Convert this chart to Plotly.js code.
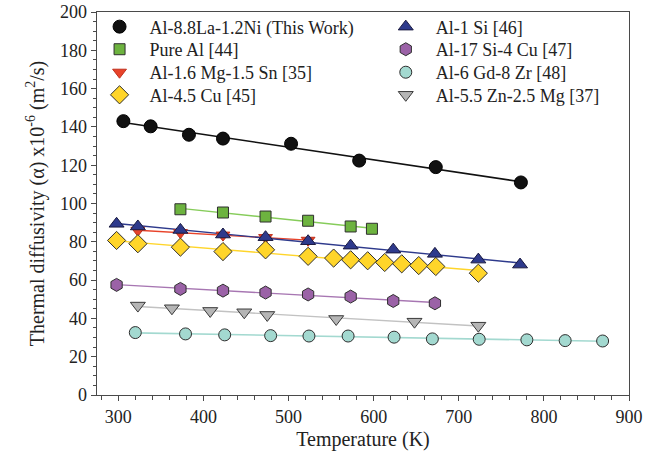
<!DOCTYPE html>
<html>
<head>
<meta charset="utf-8">
<script src="https://cdn.plot.ly/plotly-3.0.1.min.js"></script>
<style>html,body{margin:0;padding:0;background:#fff;}#chart{width:656px;height:459px;}</style>
</head>
<body>
<div id="chart"></div>
<script>
// Temperature (K) and thermal diffusivity (x10^-6 m^2/s) for each alloy
const names = [
  "Al-8.8La-1.2Ni (This Work)", "Pure Al [44]", "Al-1.6 Mg-1.5 Sn [35]", "Al-4.5 Cu [45]",
  "Al-1 Si [46]", "Al-17 Si-4 Cu [47]", "Al-6 Gd-8 Zr [48]", "Al-5.5 Zn-2.5 Mg [37]"
];
const T_LaNi = [306, 338, 383, 423, 503, 583, 673, 773];
const D_LaNi = [143, 140.3, 135.9, 133.9, 131.2, 122.4, 119, 111];
const T_PureAl = [373, 423, 473, 523, 573, 598];
const D_PureAl = [97, 95.3, 93.2, 91, 88, 86.8];
const T_MgSn = [323, 373, 423, 473, 523];
const D_MgSn = [86, 84.8, 83.5, 82.2, 80.8];
const T_Cu = [298, 323, 373, 423, 473, 523, 553, 573, 593, 613, 633, 653, 673, 723];
const D_Cu = [80.7, 79, 77.2, 74.9, 75.8, 72.4, 71.5, 70.6, 70.1, 69.2, 68.5, 67.6, 67.1, 63.6];
const T_Si = [298, 323, 373, 423, 473, 523, 573, 623, 672, 723, 772];
const D_Si = [89.4, 88, 86.2, 83.8, 82.4, 80.3, 78, 75.9, 73.7, 70.7, 68.1];
const T_SiCu = [298, 373, 423, 473, 523, 573, 623, 672];
const D_SiCu = [57.5, 55.4, 54.5, 53.5, 52.5, 51.4, 49.1, 47.9];
const T_GdZr = [320, 379, 425, 479, 524, 570, 624, 669, 724, 780, 825, 869];
const D_GdZr = [32.6, 31.9, 31.4, 31, 30.8, 30.8, 30.2, 29.3, 29.1, 28.8, 28.4, 28.2];
const T_ZnMg = [323, 363, 408, 448, 475, 556, 648, 723];
const D_ZnMg = [46.7, 45.3, 43.9, 43.2, 41.8, 39.7, 38.3, 36.2];

const xTickVals = [300, 400, 500, 600, 700, 800, 900];
const yTickVals = [0, 20, 40, 60, 80, 100, 120, 140, 160, 180, 200];

const series = [
  {x: T_LaNi, y: D_LaNi, sym: "circle", size: 13, fill: "#111111", line: "#111111", edge: "#000000", lw: 1.6},
  {x: T_PureAl, y: D_PureAl, sym: "square", size: 11, fill: "#6db33f", line: "#86cc5a", edge: "#2f2f2f", lw: 1.4},
  {x: T_MgSn, y: D_MgSn, sym: "triangle-down", size: 12, fill: "#e8432a", line: "#e8432a", edge: "#c0301c", lw: 1.4},
  {x: T_Cu, y: D_Cu, sym: "diamond", size: 14, fill: "#ffd52a", line: "#ffd52a", edge: "#2f2f2f", lw: 1.4},
  {x: T_Si, y: D_Si, sym: "triangle-up", size: 13, fill: "#2e3a8c", line: "#2e3a8c", edge: "#1a1a40", lw: 1.4},
  {x: T_SiCu, y: D_SiCu, sym: "hexagon", size: 13, fill: "#9b62a7", line: "#a776b2", edge: "#2f2f2f", lw: 1.4},
  {x: T_GdZr, y: D_GdZr, sym: "circle", size: 12, fill: "#a3d9d0", line: "#a3d9d0", edge: "#2f2f2f", lw: 1.6},
  {x: T_ZnMg, y: D_ZnMg, sym: "triangle-down", size: 13, fill: "#b5b5b5", line: "#c2c2c2", edge: "#3a3a3a", lw: 1.4}
];

function fit(xs, ys) {
  const n = xs.length;
  let sx = 0, sy = 0, sxx = 0, sxy = 0;
  for (let i = 0; i < n; i++) { sx += xs[i]; sy += ys[i]; sxx += xs[i]*xs[i]; sxy += xs[i]*ys[i]; }
  const b = (n*sxy - sx*sy) / (n*sxx - sx*sx);
  const a = (sy - b*sx) / n;
  const x0 = Math.min(...xs), x1 = Math.max(...xs);
  return {x: [x0, x1], y: [a + b*x0, a + b*x1]};
}

const traces = [];
series.forEach(s => {
  const f = fit(s.x, s.y);
  traces.push({x: f.x, y: f.y, mode: "lines", line: {color: s.line, width: s.lw}, showlegend: false, hoverinfo: "skip"});
});
series.forEach((s, i) => {
  traces.push({
    x: s.x, y: s.y, mode: "markers", name: names[i], legend: i === 0 ? "legend" : "legend" + (i + 1),
    marker: {symbol: s.sym, size: s.size, color: s.fill, line: {color: s.edge, width: 1}}
  });
});

const fontFam = '"Liberation Serif", "Times New Roman", Times, serif';
const axisCommon = {
  showgrid: false, zeroline: false, showline: true, linecolor: "#4a4a4a", linewidth: 1.3,
  mirror: true, ticks: "outside", ticklen: 5, tickcolor: "#4a4a4a", tickwidth: 1,
  tickfont: {family: fontFam, size: 18, color: "#222"}
};

const layout = {
  width: 656, height: 459,
  margin: {l: 97, r: 27, t: 12, b: 64, autoexpand: false},
  paper_bgcolor: "#fff", plot_bgcolor: "#fff",
  font: {family: fontFam, color: "#222"},
  xaxis: Object.assign({}, axisCommon, {
    range: [275, 900], tickvals: xTickVals, ticktext: xTickVals.map(String),
    minor: {dtick: 20, tick0: 0, ticks: "outside", ticklen: 4, tickcolor: "#4a4a4a", tickwidth: 1},
    title: {text: "Temperature (K)", font: {family: fontFam, size: 20, color: "#222"}, standoff: 6}
  }),
  yaxis: Object.assign({}, axisCommon, {
    range: [0, 200], tickvals: yTickVals, ticktext: yTickVals.map(String),
    minor: {dtick: 5, tick0: 0, ticks: "outside", ticklen: 3, tickcolor: "#4a4a4a", tickwidth: 1},
    title: {text: "Thermal diffusivity (α) x10<sup>-6</sup> (m<sup>2</sup>/s)", font: {family: fontFam, size: 20, color: "#222"}, standoff: 10}
  })
};

// one legend per entry so the two legend columns keep even row spacing
const legX = [-0.014, 0.524];
const legY = [0.961, 0.902, 0.842, 0.783];
for (let i = 0; i < 8; i++) {
  const key = i === 0 ? "legend" : "legend" + (i + 1);
  layout[key] = {
    x: legX[Math.floor(i / 4)], y: legY[i % 4], xanchor: "left", yanchor: "middle",
    bgcolor: "rgba(0,0,0,0)", borderwidth: 0, itemwidth: 50,
    font: {family: fontFam, size: 18, color: "#222"}
  };
}

Plotly.newPlot("chart", traces, layout, {displayModeBar: false, staticPlot: true});
</script>
</body>
</html>
